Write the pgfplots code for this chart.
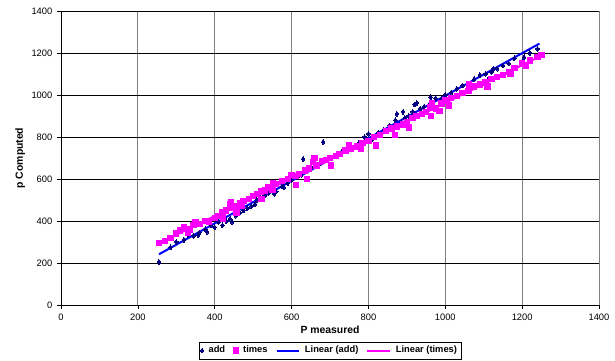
\documentclass[border=0pt]{standalone}
\usepackage{pgfplots}
\usepackage{pgfplotstable}
\pgfplotsset{compat=1.18}
\usepackage{fontspec}
\setmainfont{Liberation Sans}
\definecolor{addc}{HTML}{000080}
\definecolor{timc}{HTML}{FF00FF}
\definecolor{lina}{HTML}{0000FF}
\definecolor{gridg}{HTML}{808080}
\pgfplotstableread{
x y
255 205
285 275
300 300
320 310
330 335
345 330
357 333
360 345
375 360
380 348
390 380
400 370
410 395
420 380
430 400
440 410
445 395
455 425
465 440
470 470
475 450
485 460
495 470
505 480
510 500
520 510
530 520
540 535
550 545
555 530
560 540
575 565
580 560
590 580
600 595
615 610
625 620
630 695
640 650
650 655
660 660
670 665
682 776
690 690
700 700
715 710
730 730
745 740
760 750
775 770
790 800
800 815
810 790
825 820
840 835
855 855
870 880
874 910
885 870
890 920
895 890
905 900
915 920
920 955
926 962
935 935
945 945
960 960
962 990
975 985
990 980
1000 1000
1015 1010
1030 1030
1045 1045
1060 1050
1075 1075
1090 1095
1105 1100
1110 1070
1120 1110
1125 1125
1135 1125
1150 1140
1165 1150
1180 1175
1200 1160
1205 1180
1220 1200
1240 1220
1245 1190
}\adddata
\pgfplotstableread{
x y
255 295
270 305
285 320
300 340
310 355
320 370
330 345
335 360
345 380
350 395
360 385
375 400
385 395
400 415
410 425
420 440
422 410
430 450
440 480
442 490
445 465
455 470
457 440
465 485
470 470
475 495
490 505
500 520
510 530
520 540
522 505
530 545
540 560
550 550
552 580
560 575
575 590
590 600
600 620
610 615
612 570
620 625
635 640
640 600
645 650
655 680
660 700
665 665
680 685
690 690
700 700
702 665
715 710
725 720
740 735
750 760
755 745
770 755
780 745
785 770
800 780
815 800
820 760
830 810
845 830
860 840
870 810
875 850
890 860
900 870
905 845
915 890
925 900
940 910
950 920
960 940
962 900
965 960
975 935
985 925
990 960
1000 975
1010 950
1015 985
1030 995
1045 1010
1060 1020
1062 1050
1075 1040
1090 1050
1105 1060
1110 1040
1120 1075
1135 1085
1150 1095
1165 1110
1170 1100
1180 1130
1200 1150
1210 1140
1220 1165
1240 1180
1250 1190
}\timesdata
\begin{document}
\begin{tikzpicture}
\useasboundingbox (0,0) rectangle (461.25pt,270.75pt);
\begin{axis}[
  at={(45.75pt,42pt)}, anchor=south west,
  scale only axis, width=403.5pt, height=220.5pt,
  xmin=0, xmax=1400, ymin=0, ymax=1400,
  xtick={0,200,...,1400}, ytick={0,200,...,1400},
  axis x line*=bottom, axis y line*=left,
  axis line style={black, line width=0.6pt, -},
  xmajorgrids, ymajorgrids,
  x grid style={gridg, line width=0.6pt},
  y grid style={black, line width=0.5pt},
  tick align=outside, major tick length=3pt,
  tick style={black, line width=0.5pt},
  xtick pos=bottom, ytick pos=left,
  /pgf/number format/assume math mode=true,
  /pgf/number format/1000 sep={},
  tick label style={font=\fontsize{7pt}{8pt}\selectfont},
  xlabel={\textbf{P measured}}, ylabel={\textbf{p Computed}},
  label style={font=\fontsize{7.8pt}{9pt}\selectfont},
  xlabel style={yshift=3pt},
  ylabel style={yshift=-2pt},
  legend columns=4,
  legend style={at={(0.5,-0.125)}, anchor=north, draw=black, line width=0.6pt,
    font=\fontsize{7pt}{8pt}\selectfont\bfseries, inner sep=1pt,
    /tikz/every odd column/.append style={column sep=1.5pt},
    /tikz/every even column/.append style={column sep=4pt}},
  legend image post style={line width=1.5pt},
]
\addplot[only marks, mark=diamond*, mark size=1.8pt, color=addc, mark options={line width=0pt}] table[x=x,y=y]{\adddata};
\addlegendentry{add}
\addplot[only marks, mark=square*, mark size=2pt, color=timc, mark options={line width=0pt}] table[x=x,y=y]{\timesdata};
\addlegendentry{times}
\addplot[no marks, color=lina, line width=1.5pt] table[x=x, y={create col/linear regression={y=y}}]{\adddata};
\addlegendentry{Linear (add)}
\addplot[no marks, color=timc, line width=1.5pt] table[x=x, y={create col/linear regression={y=y}}]{\timesdata};
\addlegendentry{Linear (times)}
\end{axis}
\end{tikzpicture}
\end{document}
